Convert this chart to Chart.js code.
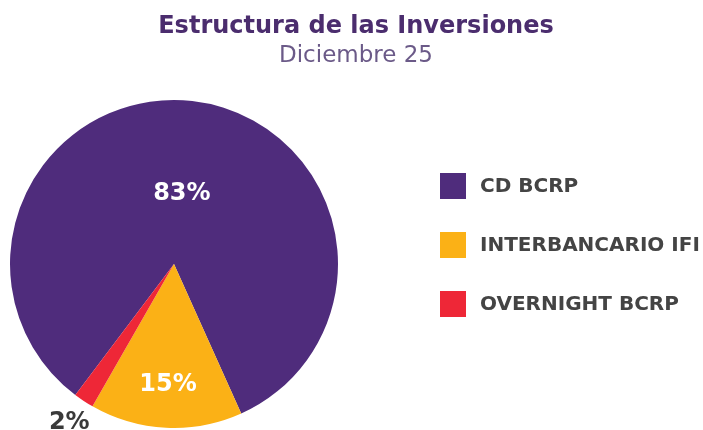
<!DOCTYPE html>
<html>
<head>
<meta charset="utf-8">
<script src="https://cdn.jsdelivr.net/npm/chart.js@4"></script>
<style>
  body { margin: 0; background: #fff; }
  .wrap { position: relative; width: 703px; height: 430px; }
</style>
</head>
<body>
<div class="wrap"><canvas id="pieInversiones"></canvas></div>
<script>
// estructura de las inversiones, dic 25
const categorias = ["CD BCRP", "INTERBANCARIO IFI", "OVERNIGHT BCRP"];
const porcentajes = [83, 15, 2];
const titulo = "Estructura de las Inversiones";
const subtitulo = "Diciembre 25";

const colores = ["#4f2c7c", "#fbb116", "#ee2737"];
const fuente = "'DejaVu Sans', sans-serif";

// titulo y subtitulo centrados en todo el ancho
const encabezado = {
  id: "encabezado",
  afterDraw(chart) {
    const ctx = chart.ctx;
    const cx = 356;
    ctx.save();
    ctx.textAlign = "center";
    ctx.textBaseline = "alphabetic";
    ctx.fillStyle = "#4b2d6e";
    ctx.font = "bold 24px " + fuente;
    ctx.fillText(titulo, cx, 33);
    ctx.fillStyle = "#6b5a88";
    ctx.font = "23px " + fuente;
    ctx.fillText(subtitulo, cx, 62);
    ctx.restore();
  }
};

// etiquetas de % sobre cada tajada (distancia relativa al radio)
const etiquetasPct = {
  id: "etiquetasPct",
  afterDatasetsDraw(chart, args, opts) {
    const ctx = chart.ctx;
    const meta = chart.getDatasetMeta(0);
    ctx.save();
    ctx.font = "bold 24px " + fuente;
    ctx.textAlign = "center";
    ctx.textBaseline = "middle";
    meta.data.forEach((arc, i) => {
      const p = arc.getProps(["x", "y", "startAngle", "endAngle", "outerRadius"], true);
      const mid = (p.startAngle + p.endAngle) / 2;
      const r = p.outerRadius * opts.dist[i];
      ctx.fillStyle = opts.color[i];
      ctx.fillText(porcentajes[i] + "%", p.x + Math.cos(mid) * r, p.y + Math.sin(mid) * r);
    });
    ctx.restore();
  }
};

// leyenda a la derecha
const leyenda = {
  id: "leyenda",
  afterDraw(chart, args, opts) {
    const ctx = chart.ctx;
    ctx.save();
    ctx.font = "bold 20px " + fuente;
    ctx.textBaseline = "middle";
    categorias.forEach((cat, i) => {
      const y = opts.top + i * opts.gap;
      ctx.fillStyle = colores[i];
      ctx.fillRect(opts.x, y - 13, 26, 26);
      ctx.fillStyle = "#444444";
      ctx.fillText(cat, opts.x + 40, y + 1);
    });
    ctx.restore();
  }
};

new Chart(document.getElementById("pieInversiones"), {
  type: "pie",
  data: {
    labels: categorias,
    datasets: [{
      data: porcentajes,
      backgroundColor: colores,
      borderWidth: 0
    }]
  },
  options: {
    responsive: true,
    maintainAspectRatio: false,
    animation: false,
    rotation: 217,
    layout: { padding: { top: 100, left: 10, right: 365, bottom: 2 } },
    plugins: {
      legend: { display: false },
      tooltip: { enabled: false },
      title: { display: false },
      etiquetasPct: {
        dist: [0.43, 0.74, 1.16],
        color: ["#ffffff", "#ffffff", "#3a3a3a"]
      },
      leyenda: { x: 440, top: 186, gap: 59 }
    }
  },
  plugins: [encabezado, etiquetasPct, leyenda]
});
</script>
</body>
</html>
